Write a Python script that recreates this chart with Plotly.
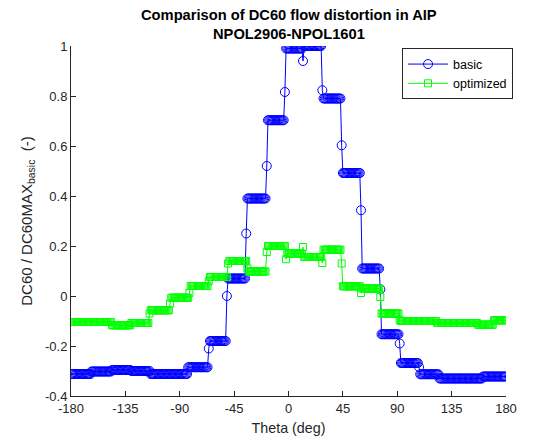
import plotly.graph_objects as go

# Theta grid (deg), 1-degree spacing from -180 to 180
theta = list(range(-180, 181))

# DC60 / DC60MAX_basic, basic configuration
basic = [
    # -180..-164 (17)
    -0.312, -0.312, -0.312, -0.312, -0.312, -0.312, -0.312, -0.312, -0.312, -0.312,
    -0.312, -0.312, -0.312, -0.312, -0.312, -0.312, -0.312,
    # -163..-147 (17)
    -0.302, -0.302, -0.302, -0.302, -0.302, -0.302, -0.302, -0.302, -0.302, -0.302,
    -0.302, -0.302, -0.302, -0.302, -0.302, -0.302, -0.302,
    # -146..-131 (16)
    -0.296, -0.296, -0.296, -0.296, -0.296, -0.296, -0.296, -0.296, -0.296, -0.296,
    -0.296, -0.296, -0.296, -0.296, -0.296, -0.296,
    # -130..-115 (16)
    -0.300, -0.300, -0.300, -0.300, -0.300, -0.300, -0.300, -0.300, -0.300, -0.300,
    -0.300, -0.300, -0.300, -0.300, -0.300, -0.300,
    # -114..-84 (31)
    -0.312, -0.312, -0.312, -0.312, -0.312, -0.312, -0.312, -0.312, -0.312, -0.312,
    -0.312, -0.312, -0.312, -0.312, -0.312, -0.312, -0.312, -0.312, -0.312, -0.312,
    -0.312, -0.312, -0.312, -0.312, -0.312, -0.312, -0.312, -0.312, -0.312, -0.312,
    -0.312,
    # -83..-67 (17)
    -0.285, -0.285, -0.285, -0.285, -0.285, -0.285, -0.285, -0.285, -0.285, -0.285,
    -0.285, -0.285, -0.285, -0.285, -0.285, -0.285, -0.285,
    -0.21,   # -66
    # -65..-52 (14)
    -0.18, -0.18, -0.18, -0.18, -0.18, -0.18, -0.18, -0.18, -0.18, -0.18,
    -0.18, -0.18, -0.18, -0.18,
    0.0,     # -51
    # -50..-36 (15)
    0.07, 0.07, 0.07, 0.07, 0.07, 0.07, 0.07, 0.07, 0.07, 0.07,
    0.07, 0.07, 0.07, 0.07, 0.07,
    0.25,    # -35
    # -34..-19 (16)
    0.39, 0.39, 0.39, 0.39, 0.39, 0.39, 0.39, 0.39, 0.39, 0.39,
    0.39, 0.39, 0.39, 0.39, 0.39, 0.39,
    0.52,    # -18
    # -17..-4 (14)
    0.703, 0.703, 0.703, 0.703, 0.703, 0.703, 0.703, 0.703, 0.703, 0.703,
    0.703, 0.703, 0.703, 0.703,
    0.816,   # -3
    # -2..11 (14)
    0.99, 0.99, 0.99, 0.99, 0.99, 0.99, 0.99, 0.99, 0.99, 0.99,
    0.99, 0.99, 0.99, 0.99,
    0.94,    # 12
    # 13..27 (15)
    1.0, 1.0, 1.0, 1.0, 1.0, 1.0, 1.0, 1.0, 1.0, 1.0,
    1.0, 1.0, 1.0, 1.0, 1.0,
    0.823,   # 28
    # 29..43 (15)
    0.79, 0.79, 0.79, 0.79, 0.79, 0.79, 0.79, 0.79, 0.79, 0.79,
    0.79, 0.79, 0.79, 0.79, 0.79,
    0.603,   # 44
    # 45..59 (15)
    0.492, 0.492, 0.492, 0.492, 0.492, 0.492, 0.492, 0.492, 0.492, 0.492,
    0.492, 0.492, 0.492, 0.492, 0.492,
    0.343,   # 60
    # 61..75 (15)
    0.11, 0.11, 0.11, 0.11, 0.11, 0.11, 0.11, 0.11, 0.11, 0.11,
    0.11, 0.11, 0.11, 0.11, 0.11,
    0.027,   # 76
    # 77..91 (15)
    -0.153, -0.153, -0.153, -0.153, -0.153, -0.153, -0.153, -0.153, -0.153, -0.153,
    -0.153, -0.153, -0.153, -0.153, -0.153,
    -0.19,   # 92
    # 93..107 (15)
    -0.268, -0.268, -0.268, -0.268, -0.268, -0.268, -0.268, -0.268, -0.268, -0.268,
    -0.268, -0.268, -0.268, -0.268, -0.268,
    -0.284,  # 108
    # 109..124 (16)
    -0.313, -0.313, -0.313, -0.313, -0.313, -0.313, -0.313, -0.313, -0.313, -0.313,
    -0.313, -0.313, -0.313, -0.313, -0.313, -0.313,
    # 125..160 (36)
    -0.33, -0.33, -0.33, -0.33, -0.33, -0.33, -0.33, -0.33, -0.33, -0.33,
    -0.33, -0.33, -0.33, -0.33, -0.33, -0.33, -0.33, -0.33, -0.33, -0.33,
    -0.33, -0.33, -0.33, -0.33, -0.33, -0.33, -0.33, -0.33, -0.33, -0.33,
    -0.33, -0.33, -0.33, -0.33, -0.33, -0.33,
    # 161..180 (20)
    -0.322, -0.322, -0.322, -0.322, -0.322, -0.322, -0.322, -0.322, -0.322, -0.322,
    -0.322, -0.322, -0.322, -0.322, -0.322, -0.322, -0.322, -0.322, -0.322, -0.322,
]

# DC60 / DC60MAX_basic, optimized configuration
optimized = [
    # -180..-147 (34)
    -0.104, -0.104, -0.104, -0.104, -0.104, -0.104, -0.104, -0.104, -0.104, -0.104,
    -0.104, -0.104, -0.104, -0.104, -0.104, -0.104, -0.104, -0.104, -0.104, -0.104,
    -0.104, -0.104, -0.104, -0.104, -0.104, -0.104, -0.104, -0.104, -0.104, -0.104,
    -0.104, -0.104, -0.104, -0.104,
    # -146..-131 (16)
    -0.117, -0.117, -0.117, -0.117, -0.117, -0.117, -0.117, -0.117, -0.117, -0.117,
    -0.117, -0.117, -0.117, -0.117, -0.117, -0.117,
    # -130..-116 (15)
    -0.108, -0.108, -0.108, -0.108, -0.108, -0.108, -0.108, -0.108, -0.108, -0.108,
    -0.108, -0.108, -0.108, -0.108, -0.108,
    -0.07,   # -115
    # -114..-99 (16)
    -0.057, -0.057, -0.057, -0.057, -0.057, -0.057, -0.057, -0.057, -0.057, -0.057,
    -0.057, -0.057, -0.057, -0.057, -0.057, -0.057,
    -0.03,   # -98
    # -97..-83 (15)
    -0.007, -0.007, -0.007, -0.007, -0.007, -0.007, -0.007, -0.007, -0.007, -0.007,
    -0.007, -0.007, -0.007, -0.007, -0.007,
    0.012,   # -82
    # -81..-67 (15)
    0.04, 0.04, 0.04, 0.04, 0.04, 0.04, 0.04, 0.04, 0.04, 0.04,
    0.04, 0.04, 0.04, 0.04, 0.04,
    0.06,    # -66
    # -65..-51 (15)
    0.076, 0.076, 0.076, 0.076, 0.076, 0.076, 0.076, 0.076, 0.076, 0.076,
    0.076, 0.076, 0.076, 0.076, 0.076,
    0.13,    # -50
    # -49..-35 (15)
    0.14, 0.14, 0.14, 0.14, 0.14, 0.14, 0.14, 0.14, 0.14, 0.14,
    0.14, 0.14, 0.14, 0.14, 0.14,
    0.11,    # -34
    # -33..-19 (15)
    0.098, 0.098, 0.098, 0.098, 0.098, 0.098, 0.098, 0.098, 0.098, 0.098,
    0.098, 0.098, 0.098, 0.098, 0.098,
    0.176,   # -18
    # -17..-3 (15)
    0.2, 0.2, 0.2, 0.2, 0.2, 0.2, 0.2, 0.2, 0.2, 0.2,
    0.2, 0.2, 0.2, 0.2, 0.2,
    0.147,   # -2
    # -1..11 (13)
    0.17, 0.17, 0.17, 0.17, 0.17, 0.17, 0.17, 0.17, 0.17, 0.17,
    0.17, 0.17, 0.17,
    0.196,   # 12
    # 13..27 (15)
    0.156, 0.156, 0.156, 0.156, 0.156, 0.156, 0.156, 0.156, 0.156, 0.156,
    0.156, 0.156, 0.156, 0.156, 0.156,
    0.132,   # 28
    # 29..43 (15)
    0.185, 0.185, 0.185, 0.185, 0.185, 0.185, 0.185, 0.185, 0.185, 0.185,
    0.185, 0.185, 0.185, 0.185, 0.185,
    0.13,    # 44
    # 45..59 (15)
    0.039, 0.039, 0.039, 0.039, 0.039, 0.039, 0.039, 0.039, 0.039, 0.039,
    0.039, 0.039, 0.039, 0.039, 0.039,
    0.012,   # 60
    # 61..75 (15)
    0.03, 0.03, 0.03, 0.03, 0.03, 0.03, 0.03, 0.03, 0.03, 0.03,
    0.03, 0.03, 0.03, 0.03, 0.03,
    -0.004,  # 76
    # 77..91 (15)
    -0.07, -0.07, -0.07, -0.07, -0.07, -0.07, -0.07, -0.07, -0.07, -0.07,
    -0.07, -0.07, -0.07, -0.07, -0.07,
    -0.097,  # 92
    # 93..122 (30)
    -0.1, -0.1, -0.1, -0.1, -0.1, -0.1, -0.1, -0.1, -0.1, -0.1,
    -0.1, -0.1, -0.1, -0.1, -0.1, -0.1, -0.1, -0.1, -0.1, -0.1,
    -0.1, -0.1, -0.1, -0.1, -0.1, -0.1, -0.1, -0.1, -0.1, -0.1,
    # 123..156 (34)
    -0.108, -0.108, -0.108, -0.108, -0.108, -0.108, -0.108, -0.108, -0.108, -0.108,
    -0.108, -0.108, -0.108, -0.108, -0.108, -0.108, -0.108, -0.108, -0.108, -0.108,
    -0.108, -0.108, -0.108, -0.108, -0.108, -0.108, -0.108, -0.108, -0.108, -0.108,
    -0.108, -0.108, -0.108, -0.108,
    # 157..169 (13)
    -0.115, -0.115, -0.115, -0.115, -0.115, -0.115, -0.115, -0.115, -0.115, -0.115,
    -0.115, -0.115, -0.115,
    # 170..180 (11)
    -0.097, -0.097, -0.097, -0.097, -0.097, -0.097, -0.097, -0.097, -0.097, -0.097,
    -0.097,
]

assert len(basic) == len(theta), len(basic)
assert len(optimized) == len(theta), len(optimized)

x_tickvals = [-180, -135, -90, -45, 0, 45, 90, 135, 180]
x_ticktext = ["-180", "-135", "-90", "-45", "0", "45", "90", "135", "180"]
y_tickvals = [-0.4, -0.2, 0, 0.2, 0.4, 0.6, 0.8, 1]
y_ticktext = ["-0.4", "-0.2", "0", "0.2", "0.4", "0.6", "0.8", "1"]

title_lines = ["Comparison of DC60 flow distortion in AIP", "NPOL2906-NPOL1601"]

AX = "#262626"
FONT = "Liberation Sans, Arial, sans-serif"

fig = go.Figure()
fig.add_trace(go.Scatter(
    x=theta, y=basic, name="basic", mode="lines+markers",
    line=dict(color="rgb(0,0,255)", width=1),
    marker=dict(symbol="circle-open", size=9, color="rgb(0,0,255)", line=dict(width=1)),
))
fig.add_trace(go.Scatter(
    x=theta, y=optimized, name="optimized", mode="lines+markers",
    line=dict(color="rgb(0,255,0)", width=1),
    marker=dict(symbol="square-open", size=7, color="rgb(0,255,0)", line=dict(width=1)),
))

# plot area spans 350 px vertically; title lines centred at y=15 and y=34 px
fig.add_annotation(text="<b>%s</b>" % title_lines[0], xref="paper", yref="paper",
                   x=0.5, y=1 + (46 - 15) / 350, xanchor="center", yanchor="middle",
                   showarrow=False, font=dict(family=FONT, size=14.7, color="black"))
fig.add_annotation(text="<b>%s</b>" % title_lines[1], xref="paper", yref="paper",
                   x=0.5, y=1 + (46 - 34) / 350, xanchor="center", yanchor="middle",
                   showarrow=False, font=dict(family=FONT, size=14.7, color="black"))

fig.update_layout(
    width=551, height=445,
    margin=dict(l=71, r=45, t=46, b=49),
    paper_bgcolor="white", plot_bgcolor="white",
    font=dict(family=FONT, color=AX, size=13),
    showlegend=True,
    legend=dict(
        x=0.761, y=0.993, xanchor="left", yanchor="top",
        bgcolor="white", bordercolor=AX, borderwidth=1,
        font=dict(family=FONT, size=12.5, color="black"),
        tracegroupgap=0, itemwidth=40,
    ),
    xaxis=dict(
        range=[-180, 180], tickvals=x_tickvals, ticktext=x_ticktext,
        ticks="inside", ticklen=5, tickcolor=AX, showline=True, linecolor=AX,
        linewidth=1, mirror=False, showgrid=False, zeroline=False,
        tickfont=dict(family=FONT, size=13, color=AX),
        title=dict(text="Theta (deg)", font=dict(family=FONT, size=14.3, color=AX), standoff=8),
        automargin=False,
    ),
    yaxis=dict(
        range=[-0.4, 1], tickvals=y_tickvals, ticktext=y_ticktext,
        ticks="inside", ticklen=5, tickcolor=AX, showline=True, linecolor=AX,
        linewidth=1, mirror=False, showgrid=False, zeroline=False,
        tickfont=dict(family=FONT, size=13, color=AX),
        title=dict(text="DC60 / DC60MAX<sub>basic</sub>  (-)", font=dict(family=FONT, size=15, color=AX), standoff=8),
        automargin=False,
    ),
)

fig.write_html("out.html")
